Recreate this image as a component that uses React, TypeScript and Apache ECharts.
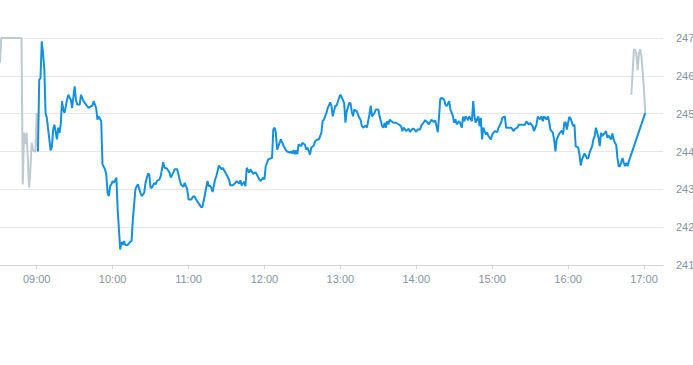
import React, { useEffect, useRef } from "react";
import * as echarts from "echarts";

// minutes after 09:00, price
const preMarket: [number, number][] = [
  [-29, 246.35], [-28, 247.0], [-12, 247.0], [-11, 243.13], [-10, 244.5], [-9, 244.2],
  [-8, 244.5], [-7, 243.8], [-6, 243.05], [-5, 243.5], [-4, 244.23], [-3, 244.05],
  [-2, 244.0], [-1, 244.0], [0, 245.02], [1, 244.0],
];

const regular: [number, number][] = [
  [1, 244.0], [2, 245.9], [3, 245.94], [4, 246.91], [5, 246.6], [6, 246.2], [7, 245.02], [8, 244.89],
  [10, 244.32], [11, 244.03], [12, 244.12], [13, 244.58], [14, 244.71], [16, 244.32], [17, 244.63],
  [18, 244.49], [19, 244.71], [20, 245.33], [21, 245.11], [22, 245.02], [24, 245.37], [25, 245.5],
  [26, 245.42], [27, 245.37], [28, 245.15], [30, 245.72], [31, 245.37], [32, 245.24], [34, 245.24],
  [35, 245.5], [37, 245.33], [39, 245.24], [41, 245.15], [43, 245.2], [44, 245.2], [45, 245.33],
  [47, 245.15], [48, 244.84], [49, 244.93], [51, 244.8], [52, 243.66], [54, 243.53], [55, 243.39],
  [56, 242.91], [57, 242.82], [58, 243.08], [59, 243.13], [60, 243.22], [61, 243.17], [63, 243.31],
  [64, 242.47], [66, 241.41], [67, 241.61], [68, 241.53], [69, 241.63], [70, 241.53], [72, 241.53],
  [74, 241.62], [75, 241.63], [76, 242.2], [78, 243.0], [79, 243.08], [80, 243.13], [82, 242.91],
  [83, 242.82], [85, 242.91], [86, 243.17], [88, 243.42], [89, 243.39], [90, 243.04], [91, 243.04],
  [93, 243.17], [94, 243.13], [95, 243.22], [97, 243.26], [98, 243.35], [100, 243.72], [101, 243.57],
  [103, 243.55], [105, 243.44], [106, 243.31], [108, 243.45], [109, 243.53], [111, 243.53],
  [113, 243.26], [114, 243.13], [116, 243.07], [117, 243.17], [119, 243.0], [120, 242.73],
  [122, 242.73], [124, 242.82], [125, 242.8], [126, 242.73], [128, 242.63], [130, 242.53],
  [131, 242.53], [133, 242.87], [135, 243.22], [136, 243.08], [137, 243.1], [138, 243.04],
  [139, 242.93], [141, 243.26], [142, 243.35], [144, 243.63], [146, 243.53], [147, 243.57],
  [149, 243.45], [150, 243.39], [152, 243.26], [153, 243.11], [155, 243.11], [157, 243.17],
  [158, 243.22], [160, 243.15], [161, 243.24], [162, 243.1], [164, 243.2], [165, 243.08],
  [166, 243.57], [168, 243.44], [169, 243.53], [171, 243.41], [173, 243.45], [174, 243.39],
  [176, 243.26], [177, 243.22], [179, 243.31], [180, 243.26], [181, 243.61], [183, 243.79],
  [185, 243.82], [186, 243.83], [187, 244.58], [188, 244.63], [189, 244.5], [190, 244.05],
  [192, 244.23], [193, 244.32], [195, 244.16], [197, 244.03], [198, 244.0], [200, 243.97],
  [201, 244.0], [202, 243.95], [203, 244.04], [204, 243.93], [205, 244.03], [206, 243.93],
  [207, 244.19], [209, 244.14], [210, 244.23], [212, 244.18], [213, 244.05], [214, 244.1],
  [216, 243.92], [217, 244.1], [219, 244.16], [220, 244.27], [222, 244.32], [223, 244.32],
  [225, 244.49], [226, 244.8], [227, 244.84], [229, 245.02], [230, 245.15], [232, 245.3],
  [233, 245.2], [234, 244.93], [236, 245.21], [237, 245.21], [239, 245.42], [240, 245.5],
  [241, 245.44], [243, 245.28], [244, 244.76], [245, 245.06], [247, 245.28], [248, 245.28],
  [249, 245.06], [250, 244.93], [251, 245.11], [253, 245.06], [255, 244.89], [256, 244.83],
  [257, 244.67], [258, 244.63], [260, 244.69], [261, 244.63], [263, 244.98], [264, 245.21],
  [265, 244.93], [267, 245.02], [268, 245.11], [270, 245.11], [271, 244.93], [273, 244.67],
  [274, 244.63], [275, 244.76], [276, 244.63], [277, 244.8], [278, 244.72], [279, 244.84],
  [280, 244.81], [282, 244.76], [284, 244.76], [286, 244.72], [288, 244.67], [289, 244.54],
  [290, 244.63], [292, 244.54], [294, 244.6], [295, 244.52], [297, 244.6], [298, 244.6],
  [300, 244.52], [301, 244.58], [303, 244.58], [304, 244.69], [306, 244.77], [307, 244.83],
  [309, 244.76], [310, 244.72], [312, 244.84], [314, 244.78], [315, 244.82], [316, 244.67],
  [317, 244.51], [318, 244.93], [319, 245.39], [320, 245.42], [322, 245.37], [323, 245.24],
  [324, 245.2], [326, 245.33], [327, 245.11], [328, 245.02], [329, 244.93], [330, 244.76],
  [331, 244.85], [332, 244.72], [334, 244.8], [336, 244.63], [337, 244.92], [338, 244.8],
  [339, 244.93], [341, 244.83], [342, 244.93], [344, 244.8], [345, 245.33], [346, 244.93],
  [347, 244.76], [349, 244.93], [350, 244.67], [351, 244.89], [352, 244.32], [353, 244.63],
  [355, 244.45], [356, 244.5], [357, 244.41], [359, 244.32], [360, 244.45], [362, 244.54],
  [364, 244.51], [365, 244.63], [367, 244.76], [368, 244.89], [370, 244.93], [371, 244.63],
  [373, 244.63], [375, 244.63], [377, 244.54], [378, 244.6], [380, 244.63], [381, 244.71],
  [384, 244.71], [386, 244.71], [387, 244.8], [389, 244.71], [390, 244.76], [392, 244.67],
  [393, 244.54], [395, 244.71], [396, 244.92], [398, 244.85], [399, 244.93], [400, 244.8],
  [401, 244.93], [403, 244.84], [404, 244.93], [405, 244.8], [406, 244.58], [408, 244.49],
  [409, 244.3], [410, 244.0], [411, 244.32], [413, 244.47], [415, 244.55], [416, 244.45],
  [417, 244.76], [418, 244.78], [419, 244.58], [420, 244.76], [421, 244.92], [422, 244.87],
  [424, 244.67], [425, 244.71], [426, 244.14], [428, 244.1], [429, 243.92], [430, 243.63],
  [431, 243.79], [433, 243.95], [434, 243.88], [435, 243.81], [436, 243.83], [437, 243.97],
  [439, 244.14], [440, 244.32], [441, 244.41], [442, 244.63], [444, 244.37], [445, 244.14],
  [446, 244.49], [447, 244.41], [449, 244.49], [450, 244.54], [451, 244.36], [452, 244.42],
  [454, 244.32], [455, 244.48], [456, 244.32], [457, 244.23], [458, 244.18], [459, 243.83],
  [460, 243.61], [461, 243.61], [463, 243.83], [464, 243.7], [465, 243.61], [466, 243.7],
  [467, 243.61], [468, 243.74], [481, 245.02],
];

const postMarket: [number, number][] = [
  [470, 245.5], [471, 246.1], [472, 246.69], [473, 246.7], [474, 246.55], [475, 246.15],
  [476, 246.6], [477, 246.7], [478, 246.5], [479, 246.08], [480, 245.6], [481, 245.02],
];

const yMin = 241;
const yMax = 247;

const pad = (n: number) => (n < 10 ? "0" + n : "" + n);

export default function App() {
  const ref = useRef<HTMLDivElement>(null);

  useEffect(() => {
    if (!ref.current) return;
    const chart = echarts.init(ref.current, null, { renderer: "svg" });
    const base = new Date(2024, 0, 2, 9, 0, 0).getTime();
    const toPts = (arr: [number, number][]) => arr.map(([m, v]) => [base + m * 60000, v]);
    const axisMin = new Date(2024, 0, 2, 8, 31, 0).getTime();
    const axisMax = new Date(2024, 0, 2, 17, 15, 0).getTime();
    const labelColor = "#86929e";

    chart.setOption({
      animation: false,
      grid: {
        left: 0,
        right: 30,
        top: 38,
        bottom: 100,
        containLabel: false,
        outerBoundsMode: "none",
      },
      xAxis: {
        type: "time",
        min: axisMin,
        max: axisMax,
        minInterval: 3600000,
        maxInterval: 3600000,
        axisLine: { show: true, lineStyle: { color: "#cfd4d9", width: 1 } },
        axisTick: { show: true, length: 4, lineStyle: { color: "#cfd4d9" } },
        splitLine: { show: false },
        axisLabel: {
          color: labelColor,
          fontSize: 11,
          fontFamily: "Liberation Sans, Arial, sans-serif",
          margin: 8,
          showMinLabel: false,
          showMaxLabel: false,
          formatter: (val: number) => {
            const d = new Date(val);
            return pad(d.getHours()) + ":" + pad(d.getMinutes());
          },
        },
      },
      yAxis: {
        type: "value",
        position: "right",
        min: yMin,
        max: yMax,
        interval: 1,
        axisLine: { show: false },
        axisTick: { show: false },
        splitLine: { show: true, lineStyle: { color: "#e4e7ea", width: 1 } },
        axisLabel: {
          color: labelColor,
          fontSize: 11,
          fontFamily: "Liberation Sans, Arial, sans-serif",
          margin: 13,
        },
      },
      series: [
        {
          type: "line",
          data: toPts(preMarket),
          showSymbol: false,
          symbol: "none",
          lineStyle: { color: "#bfc9d0", width: 2 },
          z: 2,
        },
        {
          type: "line",
          data: toPts(postMarket),
          showSymbol: false,
          symbol: "none",
          lineStyle: { color: "#bfc9d0", width: 2 },
          z: 2,
        },
        {
          type: "line",
          data: toPts(regular),
          showSymbol: false,
          symbol: "none",
          lineStyle: { color: "#1590dd", width: 2 },
          z: 3,
        },
      ],
    });
    return () => chart.dispose();
  }, []);

  return (
    <div
      ref={ref}
      style={{ position: "absolute", left: 0, top: 0, width: 693, height: 365 }}
    />
  );
}
